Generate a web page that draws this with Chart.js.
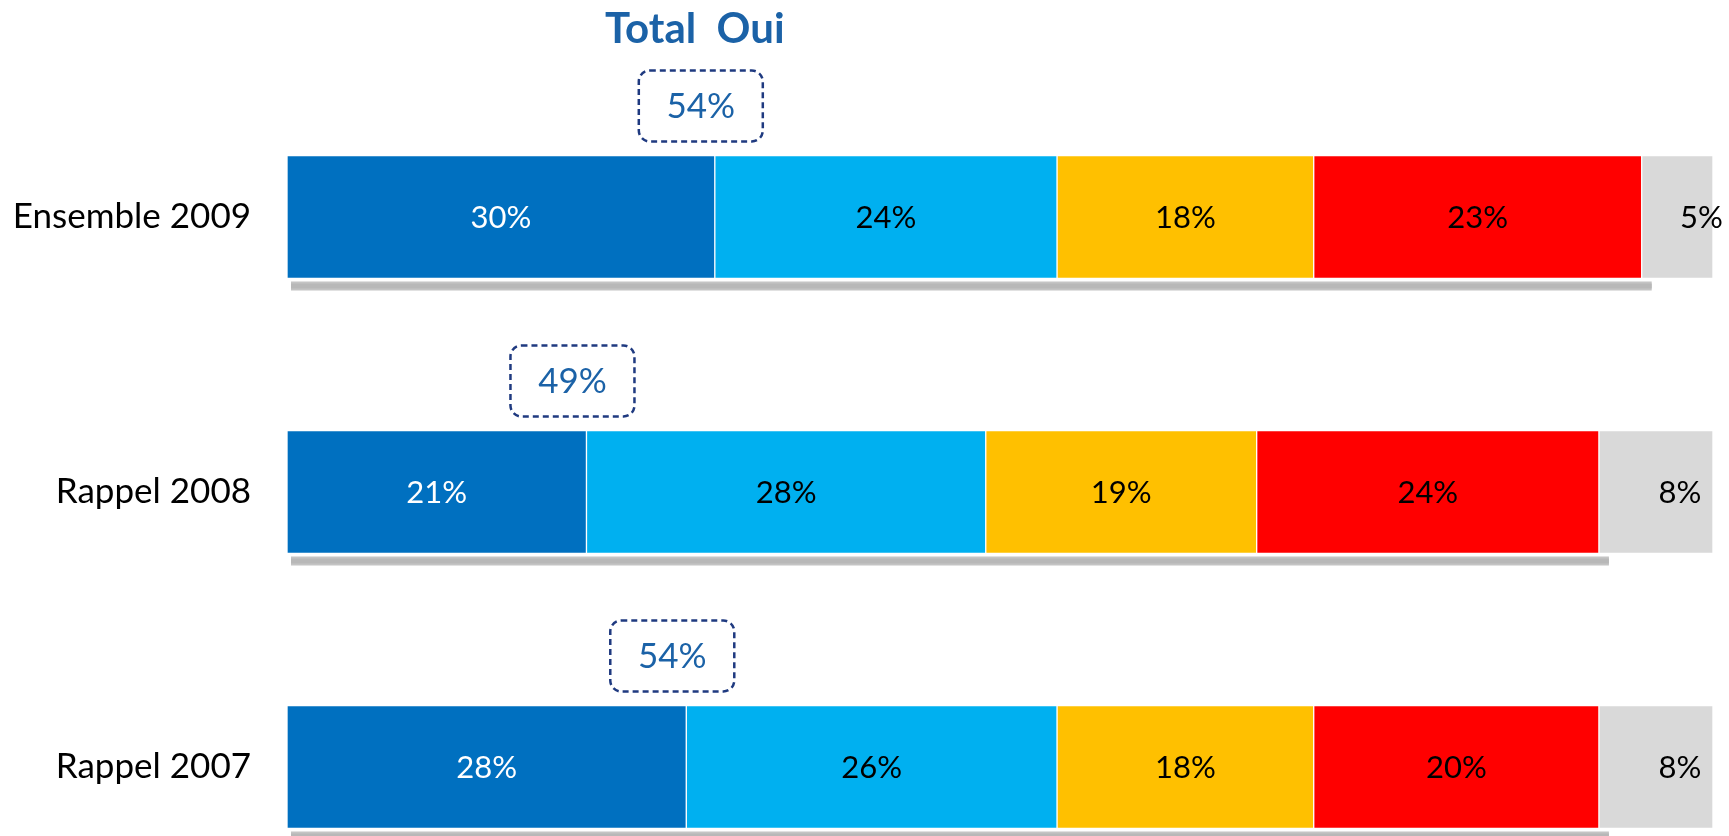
<!DOCTYPE html>
<html><head><meta charset="utf-8">
<script src="https://cdn.jsdelivr.net/npm/chart.js@4.4.1/dist/chart.umd.min.js"></script>
<style>html,body{margin:0;padding:0;background:#fff}canvas{display:block}</style>
</head><body>
<canvas id="c" width="1729" height="836"></canvas>
<script>
// ---- data ----
const categories = ['Ensemble 2009', 'Rappel 2008', 'Rappel 2007'];
const seriesNames = ['Série 1', 'Série 2', 'Série 3', 'Série 4', 'Série 5'];
const serie1 = [30, 21, 28];
const serie2 = [24, 28, 26];
const serie3 = [18, 19, 18];
const serie4 = [23, 24, 20];
const serie5 = [5, 8, 8];
const totalOui = [54, 49, 54];
const titleText = 'Total  Oui';

// ---- styles ----
const colors = ['#0070C0', '#00B0F0', '#FFC000', '#FF0000', '#D9D9D9'];
const labelColors = ['#FFFFFF', '#000000', '#000000', '#000000', '#000000'];
const FONT = 'Lato, "Open Sans", sans-serif';
const BLUE_TXT = '#1B62A7';
const NAVY = '#1F3A80';

const values = [serie1, serie2, serie3, serie4, serie5];

function roundRect(ctx, x, y, w, h, r) {
  ctx.beginPath();
  ctx.moveTo(x + r, y);
  ctx.lineTo(x + w - r, y);
  ctx.arcTo(x + w, y, x + w, y + r, r);
  ctx.lineTo(x + w, y + h - r);
  ctx.arcTo(x + w, y + h, x + w - r, y + h, r);
  ctx.lineTo(x + r, y + h);
  ctx.arcTo(x, y + h, x, y + h - r, r);
  ctx.lineTo(x, y + r);
  ctx.arcTo(x, y, x + r, y, r);
  ctx.closePath();
}

const overlay = {
  id: 'overlay',
  beforeDatasetsDraw(chart) {
    const ctx = chart.ctx;
    const m0 = chart.getDatasetMeta(0), m3 = chart.getDatasetMeta(3);
    ctx.save();
    m0.data.forEach((el, i) => {
      const r = m3.data[i];
      const left = Math.min(el.base, el.x) + 4;
      const right = r.x + 10;
      const top = el.y + el.height / 2 + 3;
      ctx.fillStyle = '#C4C4C4';
      ctx.fillRect(left, top, right - left, 9);
      ctx.fillStyle = '#B8B8B8';
      ctx.fillRect(left, top + 2, right - left, 5);
    });
    ctx.restore();
  },
  afterDatasetsDraw(chart) {
    const ctx = chart.ctx;
    ctx.save();
    ctx.textAlign = 'center';
    ctx.textBaseline = 'middle';
    ctx.font = '31px ' + FONT;
    chart.data.datasets.forEach((ds, di) => {
      const meta = chart.getDatasetMeta(di);
      meta.data.forEach((el, i) => {
        let x = (el.x + el.base) / 2;
        if (di === 4) x += 24;
        ctx.fillStyle = labelColors[di];
        ctx.fillText(ds.data[i] + '%', x, el.y + 1);
      });
    });
    // Total Oui boxes
    const m0 = chart.getDatasetMeta(0);
    const bw = 124, bh = 71;
    let firstCx = null;
    m0.data.forEach((el, i) => {
      const cx = el.x - 14;
      const barTop = el.y - el.height / 2;
      const top = barTop - 14 - bh;
      if (i === 0) { firstCx = cx; }
      ctx.save();
      ctx.setLineDash([6, 4]);
      ctx.lineWidth = 2.5;
      ctx.strokeStyle = NAVY;
      roundRect(ctx, cx - bw / 2, top, bw, bh, 11);
      ctx.stroke();
      ctx.restore();
      ctx.fillStyle = BLUE_TXT;
      ctx.font = '35px ' + FONT;
      ctx.fillText(totalOui[i] + '%', cx, top + bh / 2 + 1);
    });
    // title
    ctx.fillStyle = BLUE_TXT;
    ctx.font = 'bold 42px ' + FONT;
    ctx.fillText(titleText, firstCx - 6, 29);
    ctx.restore();
  }
};

const datasets = values.map((arr, i) => ({
  label: seriesNames[i],
  data: arr,
  backgroundColor: colors[i],
  borderColor: 'rgba(255,255,255,0.9)',
  borderWidth: { top: 1, bottom: 1, left: 1, right: 1 },
  borderSkipped: false,
  barThickness: 123,
  clip: false
}));

new Chart(document.getElementById('c'), {
  type: 'bar',
  data: { labels: categories, datasets },
  options: {
    indexAxis: 'y',
    responsive: false,
    animation: false,
    layout: { padding: { top: 217, bottom: 69, left: 0, right: 16 } },
    plugins: { legend: { display: false }, tooltip: { enabled: false }, title: { display: false } },
    scales: {
      x: { stacked: true, min: 0, max: 100, display: false },
      y: {
        stacked: true,
        offset: false,
        grid: { display: false, drawTicks: false },
        border: { display: false },
        ticks: { font: { family: FONT, size: 35 }, color: '#000', padding: 36 },
        afterFit(s) { s.width = 287; }
      }
    }
  },
  plugins: [overlay]
});
</script>
</body></html>
